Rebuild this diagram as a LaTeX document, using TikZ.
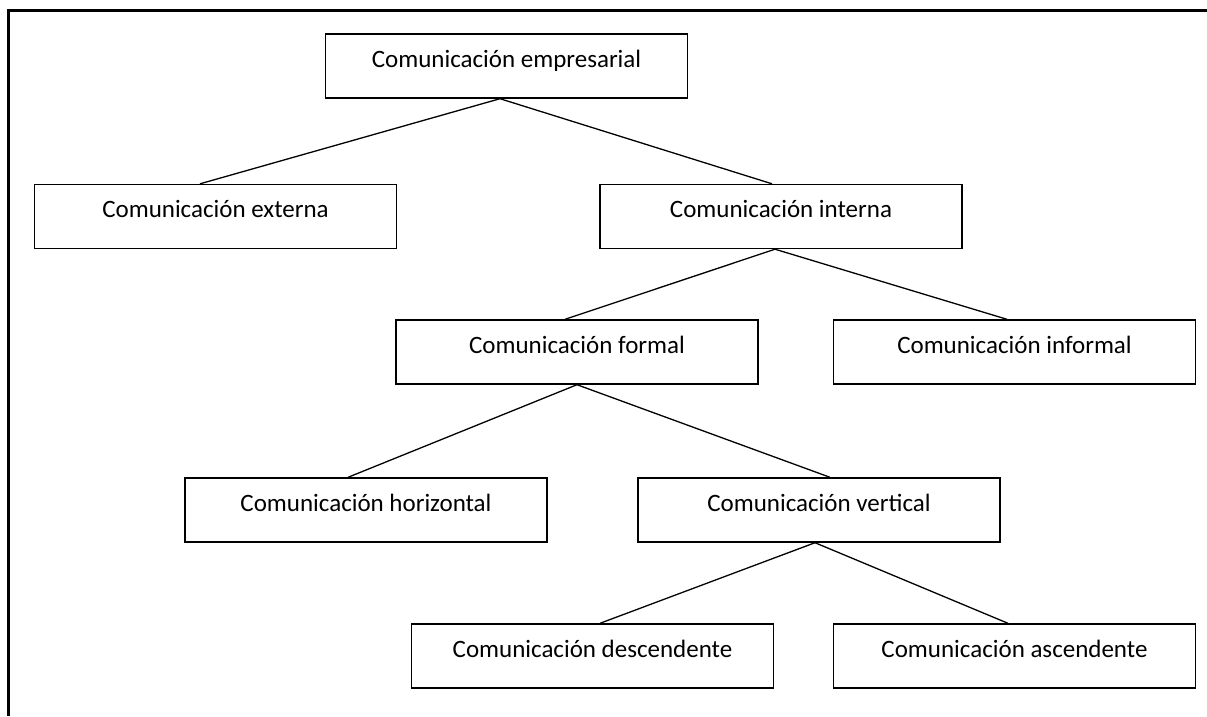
\documentclass[tikz,border=0pt]{standalone}
\usepackage{fontspec}
\setmainfont{Carlito}
\usepackage{tikz}
\usetikzlibrary{calc,shapes,arrows}

\begin{document}
\begin{tikzpicture}[x=1pt,y=-1pt,
        caja/.style={draw, rectangle, line width=1.4pt, minimum width=362pt,
            inner sep=0pt, text height=33pt, text depth=31pt,
            font=\fontsize{25}{30}\selectfont}]
        \useasboundingbox (0,0) rectangle (1207,716);
        \draw[line width=3pt] (1207,10.5) -- (8.5,10.5) -- (8.5,716);
        \node[caja] (empresa) at (506.5,66) {Comunicación empresarial};
        \node[caja] (externa) at (215.5,216.5) {Comunicación externa};
        \node[caja] (interna) at (781,216.5) {Comunicación interna};
        \node[caja] (formal) at (577,352) {Comunicación formal};
        \node[caja] (informal) at (1014.5,352) {Comunicación informal};
        \node[caja] (horiz) at (366,510) {Comunicación horizontal};
        \node[caja] (vertic) at (819,510) {Comunicación vertical};
        \node[caja] (desc) at (592.5,656) {Comunicación descendente};
        \node[caja] (asc) at (1014.5,656) {Comunicación ascendente};
        \foreach \a/\sa/\b/\sb in {empresa/-6.5/externa/-15.5, empresa/-6.5/interna/-9,
            interna/-6/formal/-12, interna/-6/informal/-7.5, formal/0/horiz/-18,
            formal/0/vertic/11, vertic/-4/desc/7.5, vertic/-4/asc/-6.5}
        \draw[line width=1.3pt] ([xshift=\sa pt]\a.south) -- ([xshift=\sb pt]\b.north);
    \end{tikzpicture}
\end{document}
